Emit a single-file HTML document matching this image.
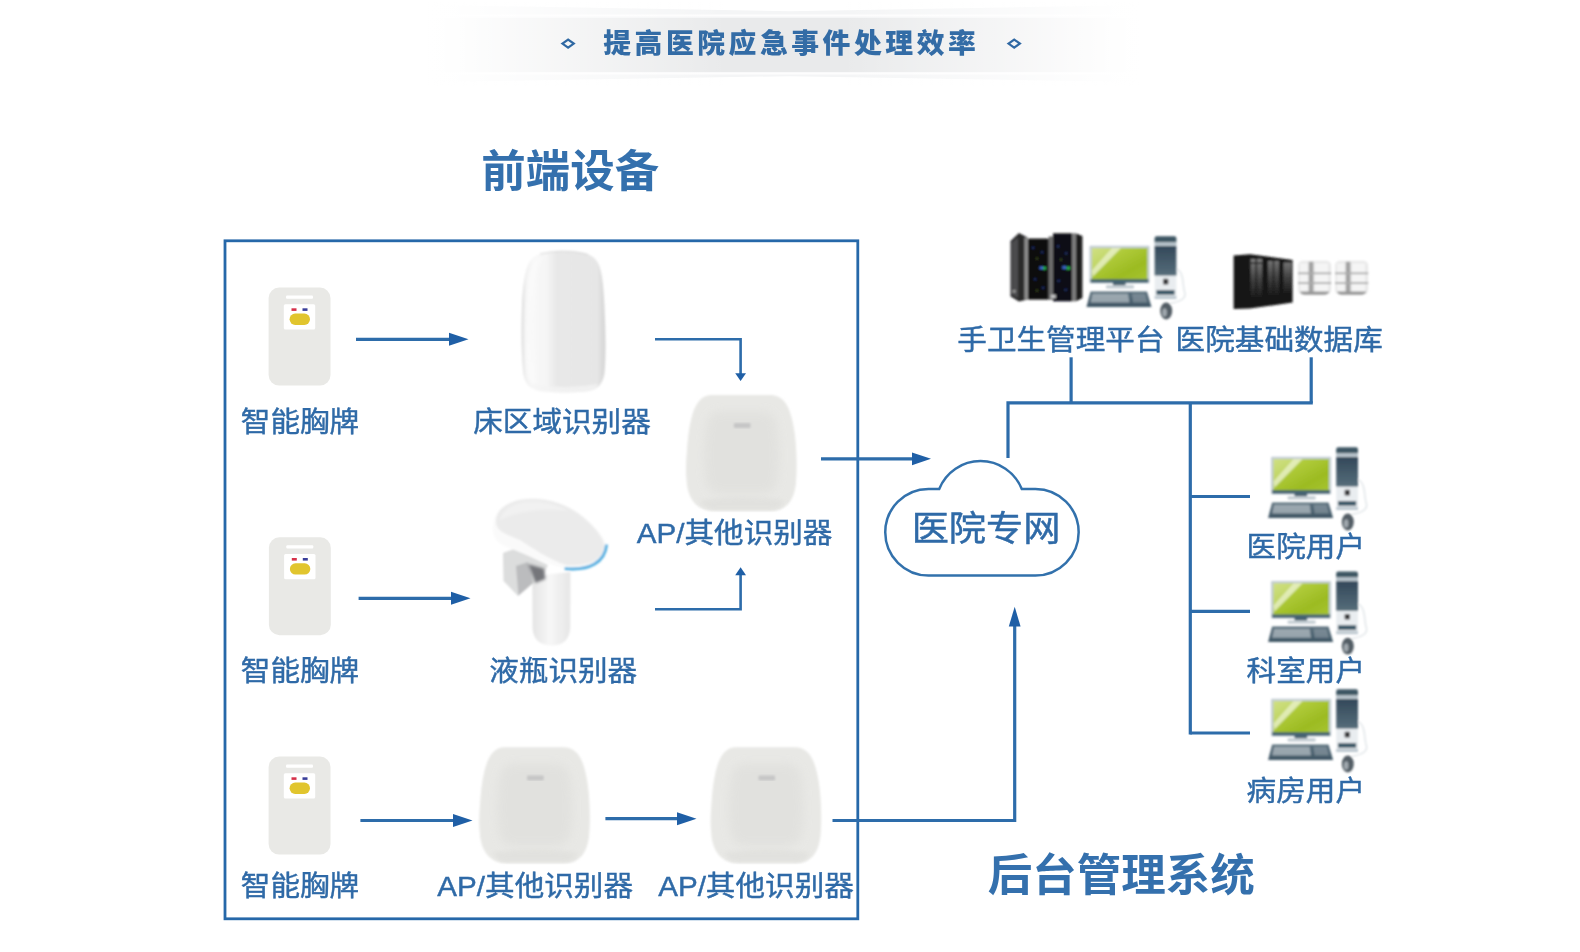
<!DOCTYPE html>
<html lang="zh-CN">
<head>
<meta charset="utf-8">
<title>提高医院应急事件处理效率</title>
<style>
html,body{margin:0;padding:0;background:#fff;}
body{width:1580px;height:952px;overflow:hidden;position:relative;font-family:"Liberation Sans","Noto Sans CJK SC",sans-serif;}
svg{position:absolute;left:0;top:0;display:block;}
text{font-family:"Liberation Sans","Noto Sans CJK SC",sans-serif;}
.lbl{font-size:29.6px;fill:#2f6aa7;stroke:#2f6aa7;stroke-width:0.45px;}
.big{font-size:44.5px;font-weight:bold;fill:#3470ad;}
.ttl{font-size:27.8px;font-weight:900;fill:#336ca6;letter-spacing:3.55px;}
.ln{stroke:#2d6caa;stroke-width:3.2;fill:none;}
.ah{fill:#1f5fa6;}
</style>
</head>
<body>
<svg width="1580" height="952" viewBox="0 0 1580 952">
<defs>
  <linearGradient id="bannerFade" x1="0" x2="1" y1="0" y2="0">
    <stop offset="0" stop-color="#fff" stop-opacity="1"/>
    <stop offset="0.04" stop-color="#fff" stop-opacity="0.96"/>
    <stop offset="0.42" stop-color="#fff" stop-opacity="0"/>
    <stop offset="0.58" stop-color="#fff" stop-opacity="0"/>
    <stop offset="0.96" stop-color="#fff" stop-opacity="0.96"/>
    <stop offset="1" stop-color="#fff" stop-opacity="1"/>
  </linearGradient>
  <filter id="b04" x="-10%" y="-10%" width="120%" height="120%"><feGaussianBlur stdDeviation="0.45"/></filter>
  <filter id="b1" x="-10%" y="-10%" width="120%" height="120%"><feGaussianBlur stdDeviation="0.8"/></filter>
  <filter id="b2" x="-10%" y="-10%" width="120%" height="120%"><feGaussianBlur stdDeviation="2"/></filter>
  <filter id="b3" x="-20%" y="-20%" width="140%" height="140%"><feGaussianBlur stdDeviation="4"/></filter>

  <!-- badge: origin top-left, 61x97 -->
  <g id="badge" filter="url(#b04)">
    <rect x="-0.4" y="-0.4" width="61.9" height="97.9" rx="10.5" ry="10.5" fill="#e9e9e6"/>
    <rect x="17" y="7.5" width="27" height="3.2" rx="1" fill="#fff"/>
    <rect x="14.8" y="16.3" width="31.4" height="25.3" rx="1.5" fill="#fff"/>
    <rect x="20.6" y="25.6" width="20.4" height="11.3" rx="5.6" fill="#e1c52f"/>
    <rect x="22.5" y="20.3" width="5" height="2.6" fill="#d6304a"/>
    <rect x="33.5" y="20.3" width="5" height="2.6" fill="#3a3f9a"/>
  </g>

  <!-- AP: origin top-left, 112x114 -->
  <radialGradient id="apg" cx="0.5" cy="0.45" r="0.62">
    <stop offset="0" stop-color="#ebebe9"/>
    <stop offset="0.7" stop-color="#e8e8e6"/>
    <stop offset="1" stop-color="#dddddb"/>
  </radialGradient>
  <g id="ap">
    <path id="apshape" d="M26 0.5 H84 C97 0.5 103 10 106.5 25 C109 35 110.5 48 110.8 60 C111.2 72 111 80 110.5 86 C109.5 105 101 116.5 86 116.5 H28 C12 116.5 2 105 1 86 C0 78 0.3 68 1.2 58 C2 46 3 35 5.5 25 C9 10 15 0.5 26 0.5Z" fill="#e8e8e5" filter="url(#b1)"/>
    <path d="M34 17 H78 Q88 18 91 30 Q95 55 92 84 Q90 97 80 99 H33 Q22 97 20 84 Q17 55 21 30 Q24 18 34 17Z" fill="#dfdfdc" opacity="0.7" filter="url(#b3)"/>
    <path d="M14 106 Q56 99 99 106 Q95 115 86 115.5 H28 Q19 115 14 106Z" fill="#dfdfdc" opacity="0.7" filter="url(#b2)"/>
    <rect x="48.3" y="28.6" width="16.6" height="5" rx="1" fill="#c6c6c6" filter="url(#b1)"/>
  </g>
  <linearGradient id="bedg" x1="0" x2="1" y1="0" y2="0">
    <stop offset="0" stop-color="#d6d6d6"/>
    <stop offset="0.05" stop-color="#eeeeee"/>
    <stop offset="0.14" stop-color="#f8f8f8"/>
    <stop offset="0.3" stop-color="#f5f5f5"/>
    <stop offset="0.42" stop-color="#e8e8e8"/>
    <stop offset="0.9" stop-color="#e6e6e6"/>
    <stop offset="1" stop-color="#d4d4d4"/>
  </linearGradient>
  <linearGradient id="stemg" x1="0" x2="1" y1="0" y2="0">
    <stop offset="0" stop-color="#e4e4e4"/>
    <stop offset="0.45" stop-color="#f7f7f7"/>
    <stop offset="1" stop-color="#e6e6e6"/>
  </linearGradient>
  <linearGradient id="scr" x1="0" x2="1" y1="0" y2="1">
    <stop offset="0" stop-color="#c3d862"/>
    <stop offset="0.35" stop-color="#aeca38"/>
    <stop offset="0.7" stop-color="#9cbb22"/>
    <stop offset="1" stop-color="#a6c430"/>
  </linearGradient>
  <linearGradient id="twr" x1="0" x2="0" y1="0" y2="1">
    <stop offset="0" stop-color="#33485a"/>
    <stop offset="1" stop-color="#566d7a"/>
  </linearGradient>
  <linearGradient id="kbd" x1="0" x2="0" y1="0" y2="1">
    <stop offset="0" stop-color="#5b707d"/>
    <stop offset="1" stop-color="#3e5564"/>
  </linearGradient>
  <linearGradient id="glass" x1="0" x2="0" y1="0" y2="1">
    <stop offset="0" stop-color="#8a8a8a"/>
    <stop offset="0.5" stop-color="#4a4a4a"/>
    <stop offset="1" stop-color="#1c1c1c"/>
  </linearGradient>
  <filter id="b05" x="-10%" y="-10%" width="120%" height="120%"><feGaussianBlur stdDeviation="0.9"/></filter>
  <!-- PC icon: origin = monitor frame top-left -->
  <g id="pc" filter="url(#b05)">
    <!-- cable -->
    <path d="M86 22 C95 26 92 40 95 47 C96 54 86 56 80 57" fill="none" stroke="#dfe4e7" stroke-width="1.4"/>
    <!-- monitor -->
    <rect x="-0.6" y="-0.6" width="60.2" height="37.4" rx="1" fill="#c4ced5"/>
    <rect x="0.6" y="32.6" width="57.8" height="3.6" fill="#41606f"/>
    <rect x="1.8" y="1.6" width="55.6" height="31.2" fill="url(#scr)"/>
    <path d="M1.8 1.6 H31 L1.8 31Z" fill="#fff" opacity="0.22"/>
    <path d="M22 1.6 H31 L3 30 L1.8 24Z" fill="#fff" opacity="0.5"/>
    <rect x="23" y="36" width="12.5" height="3.2" fill="#3f5a69"/>
    <rect x="16" y="38.8" width="28" height="3.4" rx="1" fill="#c3ccd2"/>
    <!-- keyboard -->
    <path d="M0.5 45 H57 L61.5 60.5 H-3.5Z" fill="url(#kbd)"/>
    <path d="M2.5 47.3 H38 L39.5 56.2 H0.5Z" fill="#b9c2c8" opacity="0.7"/>
    <path d="M42 47.3 H55 L57.5 56.2 H43Z" fill="#95a2ab" opacity="0.55"/>
    <!-- tower -->
    <rect x="64.6" y="-10.2" width="21.8" height="62.6" rx="2" fill="#e9edf0"/>
    <path d="M64.6 -4 V-8.2 Q64.6 -10.2 66.6 -10.2 H84.4 Q86.4 -10.2 86.4 -8.2 V-4Z" fill="#3d5764"/>
    <rect x="64.6" y="-4" width="21.8" height="3.6" fill="#b7c3ca"/>
    <rect x="64.6" y="-0.4" width="21.8" height="29.6" fill="url(#twr)"/>
    <rect x="73" y="32.4" width="5.4" height="5.6" rx="1" fill="#3a3a3e"/>
    <rect x="66.4" y="43.6" width="18.2" height="4.8" fill="#3f5a69"/>
    <rect x="64.6" y="49.6" width="21.8" height="3" fill="#bcc7cf"/>
    <!-- mouse -->
    <ellipse cx="76.2" cy="64.6" rx="6" ry="8.4" fill="#525d65"/>
    <ellipse cx="74.6" cy="66" rx="2.3" ry="4.2" fill="#b4bbc0" opacity="0.8"/>
  </g>
  <!-- disk stack: origin top-left, 33x34 -->
  <g id="disk">
    <rect x="0" y="0" width="33.2" height="34" rx="5" fill="#e9e9e9"/>
    <rect x="17" y="2.5" width="13" height="29" fill="#f8f8f8" opacity="0.8"/>
    <rect x="2" y="2.5" width="7.5" height="29" fill="#f6f6f6" opacity="0.8"/>
    <rect x="10.8" y="1" width="4.6" height="32" fill="#8a8a8a" opacity="0.75"/>
    <rect x="0" y="11.6" width="33.2" height="1.8" fill="#adadad"/>
    <rect x="0" y="21.4" width="33.2" height="1.8" fill="#adadad"/>
    <path d="M2 30.8 H31.2 Q30 34 26 34 H7 Q3 34 2 30.8Z" fill="#979797"/>
  </g>
</defs>

<!-- ===== banner ===== -->
<g id="banner" opacity="0.999">
  <path d="M430 5 L790 11.2 L1140 5 V82 L790 76.2 L430 82Z" fill="#f4f5f6"/>
  <rect x="430" y="18" width="710" height="54" fill="#e9eaeb"/>
  <rect x="430" y="14.5" width="710" height="2" fill="#fdfdfd"/>
  <rect x="430" y="72.5" width="710" height="2" fill="#fdfdfd"/>
  <rect x="428" y="2" width="714" height="84" fill="url(#bannerFade)"/>
  <path d="M562.4 43.6 L568.1 39.5 L573.8 43.6 L568.1 47.7Z" fill="none" stroke="#2f68a3" stroke-width="2.2"/>
  <path d="M1008.5 43.6 L1014.2 39.5 L1019.9 43.6 L1014.2 47.7Z" fill="none" stroke="#2f68a3" stroke-width="2.2"/>
  <text class="ttl" x="603.2" y="53.3">提高医院应急事件处理效率</text>
</g>

<!-- ===== headings ===== -->
<g id="headings" opacity="0.999">
<text class="big" x="481.3" y="186.8">前端设备</text>
<text class="big" x="987.8" y="890.8">后台管理系统</text>
</g>

<!-- ===== front-end box ===== -->
<rect x="225" y="240.8" width="632.8" height="678" fill="none" stroke="#2668a9" stroke-width="2.8"/>

<!-- LINES -->
<g id="lines" class="ln">
  <!-- row1 badge -> bed -->
  <path d="M356 339.3 H452"/>
  <!-- bed -> AP (down) -->
  <path d="M655 339.3 H740.6 V374" stroke-width="2.6"/>
  <!-- AP -> cloud -->
  <path d="M821 458.8 H915"/>
  <!-- row2 badge -> bottle -->
  <path d="M358.6 598.3 H454"/>
  <!-- bottle -> AP (up) -->
  <path d="M655 609.2 H740.6 V574" stroke-width="2.6"/>
  <!-- row3 -->
  <path d="M360.4 820.5 H456"/>
  <path d="M605.4 818.7 H680"/>
  <path d="M832.5 820.5 H1014.7 V624"/>
  <!-- cloud up -->
  <path d="M1008 458 V402.9 H1312.8"/>
  <path d="M1071.1 357.3 V402.9"/>
  <path d="M1311.2 357.3 V402.9"/>
  <path d="M1190.3 402.9 V734.6"/>
  <path d="M1190.3 496.5 H1250"/>
  <path d="M1190.3 611.3 H1250"/>
  <path d="M1190.3 733 H1250"/>
</g>
<g id="arrowheads" class="ah">
  <path d="M468.5 339.3 L449 332.8 V345.8Z"/>
  <path d="M470.5 598.3 L451 591.8 V604.8Z"/>
  <path d="M472.5 820.5 L453 814 V827Z"/>
  <path d="M696.5 818.7 L677 812.2 V825.2Z"/>
  <path d="M931 458.8 L912 452.4 V465.2Z"/>
  <path d="M740.6 381 L735.2 373.2 H746Z"/>
  <path d="M740.6 567.3 L735.2 575.2 H746Z"/>
  <path d="M1014.7 606.8 L1008.8 626.5 H1020.6Z"/>
</g>
<!-- cloud -->
<path id="cloud" d="M939.2 489 A44.5 44.5 0 0 1 1021.8 489 H1035.4 A43.3 43.3 0 0 1 1035.4 575.6 H928.5 A43.3 43.3 0 0 1 928.5 489 Z" fill="#fff" stroke="#3271ac" stroke-width="2.5"/>

<!-- DEVICES -->
<g id="devices">
  <use href="#badge" x="269" y="288"/>
  <use href="#badge" x="269.3" y="537.7"/>
  <use href="#badge" x="269" y="757"/>
  <use href="#ap" x="685.6" y="394.4"/>
  <use href="#ap" x="478.8" y="746.8"/>
  <use href="#ap" x="710.2" y="746.8"/>

  <!-- bed-area recognizer -->
  <g id="bed" filter="url(#b1)">
    <path d="M563.3 250.8 C578 250.5 592 253 597.5 262 C602 270 603.6 285 604.4 305 C605.6 330 606 352 604.8 370 C603.8 384 598 390 586 391.4 Q564 393.6 542 391.4 C530 390 524 384 523 370 C521.4 352 521.2 330 522 305 C522.8 285 525 270 529.5 262 C535 253 549 250.5 563.3 250.8Z" fill="url(#bedg)"/>
    <path d="M549 253 C540 257 535 266 533.5 285 C531 320 531 355 535 385 C528 382 526 377 525.5 370 C523.6 350 524 320 526.5 285 C528 267 536 256 549 253Z" fill="#fcfcfc" opacity="0.85" filter="url(#b2)"/>
    <path d="M532 384 Q564 390 598 384 Q596 391 584 391.4 Q564 393 544 391.4 Q534 391 532 384Z" fill="#f4f4f4" opacity="0.8"/>
    <path d="M540 254 Q563 248.5 588 254.5" fill="none" stroke="#dadada" stroke-width="1.4" opacity="0.7"/>
  </g>

  <!-- bottle recognizer -->
  <g id="bottle" filter="url(#b1)">
    <!-- stem -->
    <path d="M532.4 576 L570.4 572 L570.2 628 Q569 645.5 551.3 645.5 Q533.5 645 532.6 628Z" fill="url(#stemg)"/>
    <!-- bracket -->
    <path d="M503 553 L514 549 L548 565 L541 580 L532 584 L518 596 L503.5 581Z" fill="#dcdddd"/>
    <path d="M516 566 L528 562 L533 583 L518.5 595.5Z" fill="#bbbcbe"/>
    <g filter="url(#b1)"><path d="M528 564 L544 568.5 L545.5 579 L535.5 583Z" fill="#74767a"/></g>
    <!-- head underside rim (white) -->
    <path d="M492.7 528 C493 512 504 503 520 499 C546 494.5 570 505 585 518 C598 529 607 540 606.5 548 C605 562 592 570 566 569 C548 564 530 556 512 549 C498 545 492.5 538 492.7 528Z" fill="#fafafa"/>
    <!-- blue arc -->
    <path d="M564.6 568.6 C590 571 605 562 606.6 544.5" fill="none" stroke="#4dade0" stroke-width="2.8"/>
    <!-- head top -->
    <path d="M496 522 C496 510 506 503 520 500 C546 495.5 570 505.5 584 518 C596 528.5 604.5 539 604 546.5 C602 560 590 566 567 565.2 C550 560 532 548 520 540 C504 534 496 530 496 522Z" fill="#ebebeb"/>
    <path d="M500 520 C502 510 512 504 524 502 C540 500 556 504 568 511 C548 508 520 510 500 520Z" fill="#f3f3f3" opacity="0.8"/>
  </g>
  <!-- server rack -->
  <g id="rack" filter="url(#b05)">
    <path d="M1010.5 241 L1019 233 L1027.6 237.5 V299.5 L1019 301.5 L1010.5 296.5Z" fill="#29292b"/>
    <path d="M1011.5 242.5 L1018 237.5 V298 L1011.5 294.5Z" fill="#4c4c4e"/>
    <rect x="1024.4" y="237.6" width="3.4" height="62" fill="#8e8e8e"/>
    <rect x="1028" y="238.6" width="21" height="61" fill="#0c0c11"/>
    <rect x="1048.6" y="236.4" width="4.6" height="63.4" fill="#6d6d6d"/>
    <rect x="1053" y="233.3" width="19.4" height="68" fill="#111114"/>
    <rect x="1072" y="233.3" width="4.2" height="68" fill="#7b7b7b"/>
    <path d="M1076 233.5 L1082.4 236 V298 L1076 301.3Z" fill="#1b1b1b"/>
    <g opacity="0.55" fill="#2b57c4">
      <rect x="1032" y="247" width="2.4" height="1.6"/><rect x="1041" y="251.5" width="2.4" height="1.6"/>
      <rect x="1034" y="278.5" width="2.4" height="1.6"/><rect x="1042" y="287" width="2.4" height="1.6"/>
      <rect x="1057" y="245.5" width="2.4" height="1.6"/><rect x="1065" y="252.5" width="2.4" height="1.6"/>
      <rect x="1057.5" y="280" width="2.4" height="1.6"/><rect x="1064.5" y="289" width="2.4" height="1.6"/>
      <rect x="1036" y="258" width="2" height="1.4" fill="#6b8a2a"/><rect x="1060" y="259" width="2" height="1.4" fill="#6b8a2a"/>
      <rect x="1036" y="290" width="2" height="1.4" fill="#6b8a2a"/>
    </g>
    <rect x="1039.6" y="266.6" width="3.4" height="2.6" fill="#3f6fe0"/>
    <rect x="1043" y="266.8" width="3.2" height="2.8" fill="#27b44c"/>
    <rect x="1062.4" y="266.2" width="3.6" height="2.6" fill="#3f6fe0"/>
    <rect x="1066.4" y="266.6" width="3.8" height="3" fill="#27b44c"/>
    <rect x="1050.8" y="294.6" width="5" height="3.6" fill="#c4c4c4"/>
    <rect x="1012.6" y="290" width="3" height="2.6" fill="#9a9a9a"/>
  </g>
  <use href="#pc" x="1090" y="246.4"/>
  <!-- db rack -->
  <g id="dbrack" filter="url(#b1)">
    <path d="M1233.6 255.5 L1250 254.2 L1292.6 260 V302.6 L1250 308.6 L1233.6 309Z" fill="#151515"/>
    <rect x="1250.6" y="259" width="11.6" height="38" fill="url(#glass)" opacity="0.9"/>
    <rect x="1268" y="261" width="11" height="34" fill="url(#glass)" opacity="0.8"/>
    <rect x="1283.4" y="262.4" width="8" height="31" fill="url(#glass)" opacity="0.8"/>
    <rect x="1255.2" y="259" width="2" height="36" fill="#161616" opacity="0.6"/>
    <rect x="1272.6" y="261" width="1.8" height="33" fill="#161616" opacity="0.6"/>
    <rect x="1250.6" y="262.4" width="11.6" height="1.4" fill="#222"/>
  </g>
  <g filter="url(#b1)">
    <use href="#disk" x="1298" y="260.8"/>
    <use href="#disk" x="1335" y="260.8"/>
  </g>
  <!-- user PCs -->
  <use href="#pc" x="1271.6" y="457.4"/>
  <use href="#pc" x="1271.6" y="581.6"/>
  <use href="#pc" x="1271.6" y="699.4"/>
</g>

<!-- LABELS -->
<g id="labels" opacity="0.999">
  <text class="lbl" id="t1" text-anchor="middle" transform="translate(300.00 421.05) scale(1 0.955)" x="0" y="11.40">智能胸牌</text>
  <text class="lbl" id="t2" text-anchor="middle" transform="translate(562.00 420.95) scale(1 0.955)" x="0" y="11.40">床区域识别器</text>
  <text class="lbl" id="t3" text-anchor="middle" transform="translate(734.60 531.75) scale(1 0.955)" x="0" y="11.40">AP/其他识别器</text>
  <text class="lbl" id="t4" text-anchor="middle" transform="translate(300.00 669.65) scale(1 0.955)" x="0" y="11.40">智能胸牌</text>
  <text class="lbl" id="t5" text-anchor="middle" transform="translate(563.20 669.65) scale(1 0.955)" x="0" y="11.40">液瓶识别器</text>
  <text class="lbl" id="t6" text-anchor="middle" transform="translate(300.00 885.25) scale(1 0.955)" x="0" y="11.40">智能胸牌</text>
  <text class="lbl" id="t7" text-anchor="middle" transform="translate(535.20 885.25) scale(1 0.955)" x="0" y="11.40">AP/其他识别器</text>
  <text class="lbl" id="t8" text-anchor="middle" transform="translate(756.00 885.25) scale(1 0.955)" x="0" y="11.40">AP/其他识别器</text>
  <text class="lbl" id="t9" text-anchor="middle" transform="translate(1060.90 339.30) scale(1 0.955)" x="0" y="11.40">手卫生管理平台</text>
  <text class="lbl" id="t10" text-anchor="middle" transform="translate(1279.20 339.30) scale(1 0.955)" x="0" y="11.40">医院基础数据库</text>
  <text class="lbl" id="t11" text-anchor="middle" transform="translate(1305.80 546.05) scale(1 0.955)" x="0" y="11.40">医院用户</text>
  <text class="lbl" id="t12" text-anchor="middle" transform="translate(1305.80 669.75) scale(1 0.955)" x="0" y="11.40">科室用户</text>
  <text class="lbl" id="t13" text-anchor="middle" transform="translate(1305.80 790.25) scale(1 0.955)" x="0" y="11.40">病房用户</text>
  <text id="t14" text-anchor="middle" transform="translate(986.00 526.93) scale(1 0.955)" x="0" y="14.32" style="font-size:37.2px;fill:#2f6aa7;stroke:#2f6aa7;stroke-width:0.5px">医院专网</text>
</g>
</svg>
</body>
</html>
